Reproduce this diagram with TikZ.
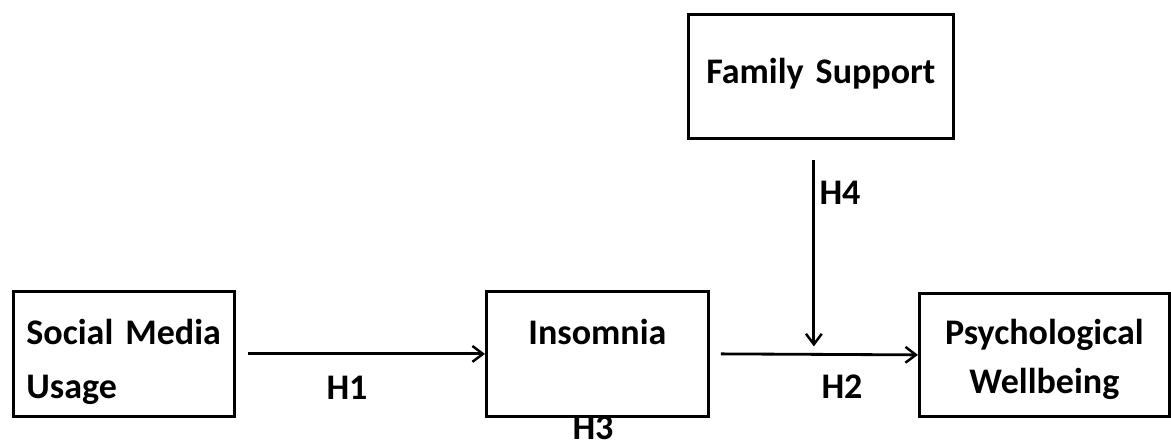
\documentclass[tikz,border=0pt]{standalone}
\usepackage{fontspec}
\setmainfont{Carlito}
\usetikzlibrary{arrows.meta,calc}

\begin{document}
\begin{tikzpicture}[x=0.02cm,y=-0.02cm]
\tikzset{box/.style = {draw, line width=1.6pt, anchor=north west, inner sep=0pt,
  font=\fontsize{20.5}{30}\selectfont\bfseries}}
\tikzset{edge/.style = {-{Straight Barb[length=6pt,width=9pt,line width=1.4pt]}, line width=1.6pt}}
\tikzset{hyp/.style = {font=\fontsize{20.5}{24}\selectfont\bfseries, inner sep=0pt}}
\useasboundingbox (0,0) rectangle (1171,448);
% boxes
\node[box, text width=5.3cm, align=center, text height=1.38cm, text depth=1.1cm] (fam) at (687,13) {Family Support};
\node[box, text width=3.9cm, inner xsep=0.26cm, align=left, text height=1.06cm, text depth=1.44cm,
  font=\fontsize{20.5}{30.7}\selectfont\bfseries] (soc) at (12,290) {Social Media\\Usage};
\node[box, text width=4.44cm, align=center, text height=1.06cm, text depth=1.44cm] (ins) at (485,290) {Insomnia};
\node[box, text width=5cm, align=center, text height=1.02cm, text depth=1.44cm,
  font=\fontsize{20.5}{27.9}\selectfont\bfseries] (psy) at (918,292) {Psychological\\Wellbeing};
% edges
\coordinate (mid) at ($(ins.east)!0.5!(psy.west)$);
\draw[edge] ([xshift=0.24cm]soc.east) -- (ins.west);
\draw[edge] ([xshift=0.22cm]ins.east) -- (psy.west);
\draw[edge] ([yshift=-0.4cm]fam.south -| mid) -- ([yshift=0.16cm]mid);
% labels
\node[hyp] (h1) at (347,388) {H1};
\node[hyp] (h2) at (842,387) {H2};
\node[hyp] (h3) at (593,428) {H3};
\node[hyp] (h4) at (840,193) {H4};
\end{tikzpicture}
\end{document}
